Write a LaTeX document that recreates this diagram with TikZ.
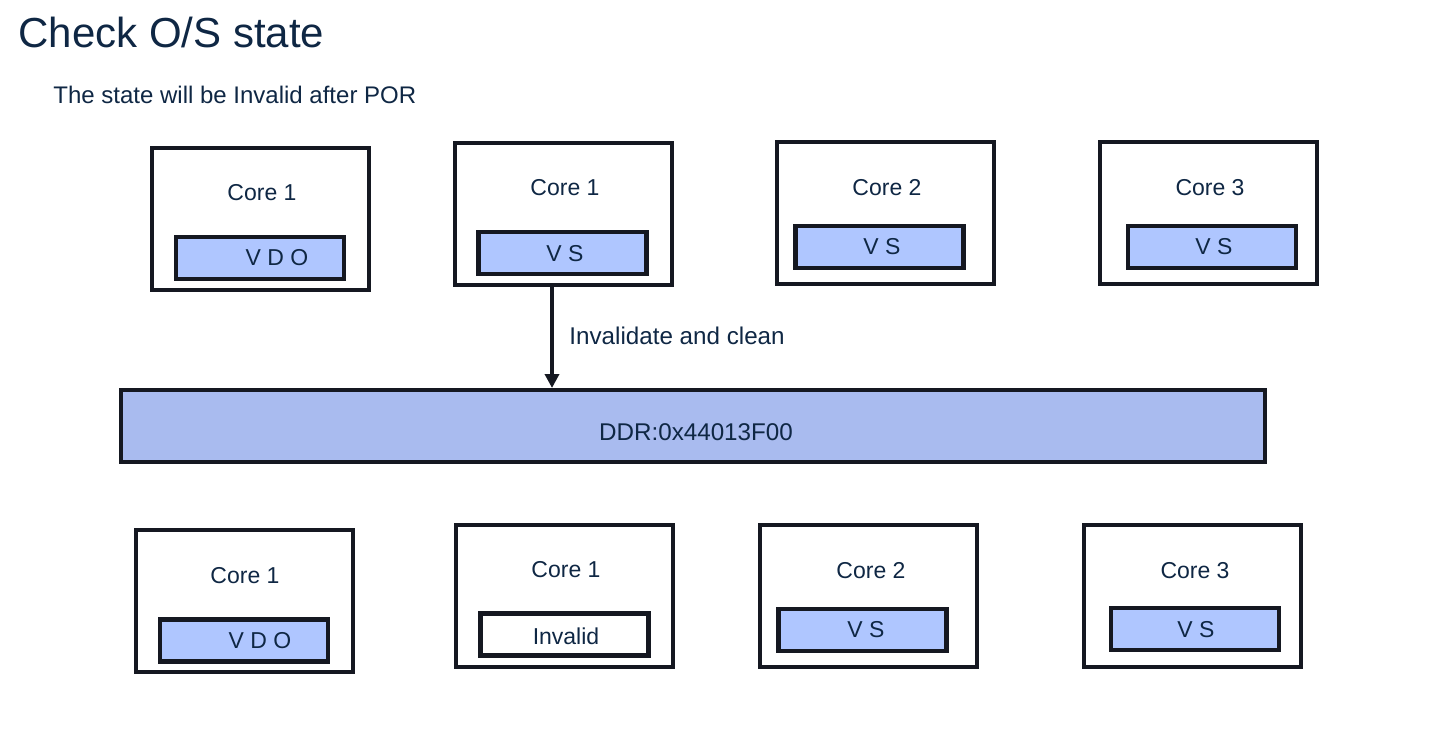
\documentclass[tikz,border=0pt]{standalone}
\usepackage{fontspec}
\setmainfont{Liberation Sans}
\usetikzlibrary{arrows.meta}
\definecolor{txt}{HTML}{0F2744}
\definecolor{ln}{HTML}{151821}
\definecolor{cell}{HTML}{AFC6FF}
\definecolor{ddrc}{HTML}{A9BBEF}
\tikzset{
  outerbox/.style={draw=ln, line width=2pt, fill=white, minimum width=108.5pt, minimum height=71pt, inner sep=0pt},
  cellbox/.style={draw=ln, line width=2.3pt, fill=cell, minimum width=84pt, minimum height=21pt, inner sep=0pt},
  emptycell/.style={cellbox, fill=white},
  lbl/.style={text=txt, font=\fontsize{11.5}{13}\selectfont, inner sep=0pt},
  biglbl/.style={text=txt, font=\fontsize{12.1}{14}\selectfont, inner sep=0pt},
  arr/.style={draw=ln, line width=2pt, -{Triangle[width=7pt,length=7pt]}}
}
\begin{document}
\begin{tikzpicture}[x=0.5pt, y=-0.5pt]
\useasboundingbox (0,0) rectangle (1433,748);
% title
\node[anchor=base west, text=txt, font=\fontsize{21}{24}\selectfont, inner sep=0pt] (title) at (18,48) {Check O/S state};
\node[anchor=base west, text=txt, font=\fontsize{12}{14}\selectfont, inner sep=0pt] (sub) at (53,104) {The state will be Invalid after POR};
% top row
\node[outerbox] (A1) at (260.5,219) {};
\node[cellbox] (A1c) at (260,258) {};
\node[lbl] (A1t) at (262,193) {Core 1};
\node[lbl] (A1v) at (277,258) {V D O};
\node[outerbox] (A2) at (563,214) {};
\node[cellbox] (A2c) at (562.5,253) {};
\node[lbl] (A2t) at (565,188) {Core 1};
\node[lbl] (A2v) at (565,254) {V S};
\node[outerbox] (A3) at (885.5,213.5) {};
\node[cellbox] (A3c) at (879.5,247) {};
\node[lbl] (A3t) at (887,188) {Core 2};
\node[lbl] (A3v) at (882,247) {V S};
\node[outerbox] (A4) at (1208.5,213.5) {};
\node[cellbox] (A4c) at (1212,247) {};
\node[lbl] (A4t) at (1210,188) {Core 3};
\node[lbl] (A4v) at (1214,247) {V S};
% DDR
\node[draw=ln, line width=2pt, fill=ddrc, minimum width=572pt, minimum height=36pt, inner sep=0pt] (DDR) at (693,426) {};
\node[biglbl] (DDRt) at (696,432) {DDR:0x44013F00};
% arrow
\coordinate (ax) at (552,0);
\draw[arr] (A2.south -| ax) -- (DDR.north -| ax);
\node[biglbl, anchor=west] (arrl) at (569,336) {Invalidate and clean};
% bottom row
\node[outerbox] (B1) at (244,601) {};
\node[cellbox] (B1c) at (244,640.5) {};
\node[lbl] (B1t) at (245,576) {Core 1};
\node[lbl] (B1v) at (260,641) {V D O};
\node[outerbox] (B2) at (564.5,596) {};
\node[emptycell] (B2c) at (564.5,634.5) {};
\node[lbl] (B2t) at (566,570) {Core 1};
\node[lbl] (B2v) at (566,636) {Invalid};
\node[outerbox] (B3) at (868.5,596) {};
\node[cellbox] (B3c) at (862.5,630) {};
\node[lbl] (B3t) at (871,571) {Core 2};
\node[lbl] (B3v) at (866,630) {V S};
\node[outerbox] (B4) at (1192.5,596) {};
\node[cellbox] (B4c) at (1195,629) {};
\node[lbl] (B4t) at (1195,571) {Core 3};
\node[lbl] (B4v) at (1196,630) {V S};
\end{tikzpicture}
\end{document}
